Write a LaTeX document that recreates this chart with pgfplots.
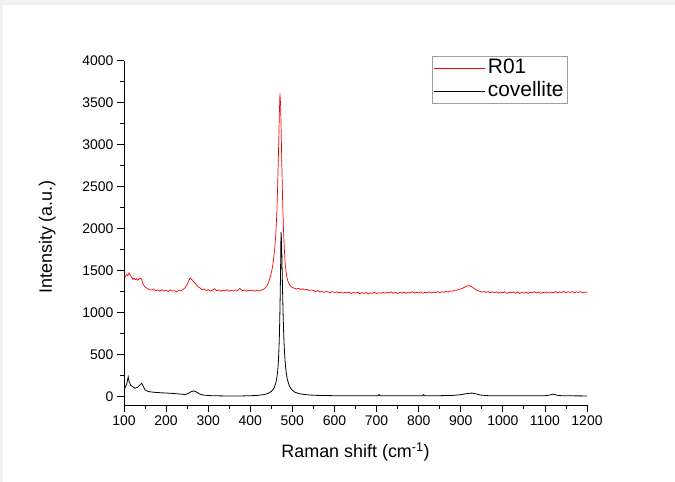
\documentclass[border=0pt]{standalone}
\usepackage{fontspec}
\setmainfont{Liberation Sans}
\usepackage{pgfplots}
\pgfplotsset{compat=1.18}
\definecolor{bggray}{RGB}{242,242,242}
\definecolor{legframe}{RGB}{160,160,160}
\begin{document}
\begin{tikzpicture}
\fill[bggray] (0bp,0bp) rectangle (675bp,482bp);
\fill[white] (3bp,0bp) rectangle (675bp,477bp);
\begin{axis}[
  at={(124bp,77bp)}, anchor=south west,
  scale only axis, width=463bp, height=344.3bp,
  xmin=100, xmax=1200, ymin=-100, ymax=4000,
  axis x line*=bottom, axis y line*=left,
  xtick={100,200,...,1200}, ytick={0,500,...,4000},
  minor x tick num=1, minor y tick num=1,
  tick align=outside,
  major tick length=7bp, minor tick length=4bp,
  tick style={black, line width=0.8bp},
  axis line style={line width=0.8bp},
  ticklabel style={font=\fontsize{14}{16}\selectfont},
  /pgf/number format/assume math mode=true,
  /pgf/number format/set thousands separator={},
  xlabel={Raman shift (cm\textsuperscript{-1})},
  ylabel={Intensity (a.u.)},
  label style={font=\fontsize{18}{21}\selectfont},
  xlabel style={at={(rel axis cs:0.5,-0.137)}, anchor=center},
  ylabel style={at={(rel axis cs:-0.166,0.488)}, anchor=center},
  legend style={at={(0.665,1.0137)}, anchor=north west, draw=legframe,
    font=\fontsize{21}{24}\selectfont, inner xsep=2bp, inner ysep=2bp, row sep=3bp,
    nodes={inner xsep=2bp, inner ysep=1bp, text height=14bp, text depth=4bp}},
  legend cell align=left,
  legend image code/.code={\path (-1bp,0bp) -- (50bp,0bp); \draw[#1] (0bp,0bp) -- (45bp,0bp);},
]
\addplot[red, line width=0.7bp] coordinates {
(100,1440)(103,1425)(106,1455)(109,1440)(112,1472)(115,1445)(118,1425)(121,1395)(124,1410)(127,1392)
(130,1405)(133,1385)(136,1402)(139,1410)(142,1395)(145,1345)(148,1318)(151,1300)(155,1290)(160,1275)
(165,1268)(170,1280)(175,1262)(180,1270)(185,1255)(190,1272)(195,1258)(200,1266)(205,1252)(210,1270)
(215,1256)(220,1262)(225,1248)(230,1265)(235,1258)(240,1275)(245,1295)(250,1335)(254,1380)(257,1412)
(260,1398)(263,1385)(266,1362)(270,1345)(274,1318)(278,1300)(282,1290)(286,1272)(290,1282)(295,1265)
(300,1272)(305,1258)(310,1268)(315,1285)(320,1262)(325,1270)(330,1255)(335,1268)(340,1260)(345,1272)
(350,1255)(355,1265)(360,1258)(365,1270)(370,1262)(375,1290)(378,1275)(382,1262)(386,1270)(390,1255)
(395,1268)(400,1262)(405,1270)(410,1255)(415,1266)(420,1258)(425,1265)(430,1275)(435,1292)(440,1320)
(444,1370)(448,1430)(452,1520)(455,1620)(458,1760)(461,1960)(463,2180)(465,2500)(467,2900)(469,3350)
(470.5,3610)(472,3480)(473.5,3150)(475,2750)(477,2300)(479,1980)(481,1750)(483,1580)(486,1450)(489,1380)
(492,1345)(495,1320)(500,1298)(505,1290)(510,1282)(515,1290)(520,1275)(525,1284)(530,1270)(535,1278)
(540,1262)(545,1270)(550,1265)(555,1250)(560,1262)(565,1245)(570,1255)(575,1240)(580,1252)(585,1245)
(590,1238)(595,1250)(600,1240)(605,1248)(610,1236)(615,1245)(620,1232)(625,1242)(630,1235)(635,1244)
(640,1228)(645,1240)(650,1232)(655,1243)(660,1225)(665,1236)(670,1228)(675,1240)(680,1222)(685,1234)
(690,1230)(695,1242)(700,1226)(705,1238)(710,1230)(715,1244)(720,1232)(725,1240)(730,1235)(735,1246)
(740,1230)(745,1242)(750,1228)(755,1240)(760,1234)(765,1245)(770,1230)(775,1244)(780,1236)(785,1248)
(790,1232)(795,1243)(800,1236)(805,1246)(810,1230)(815,1244)(820,1236)(825,1248)(830,1234)(835,1245)
(840,1238)(845,1250)(850,1236)(855,1248)(860,1242)(865,1254)(870,1245)(875,1258)(880,1255)(885,1266)
(890,1265)(895,1278)(900,1282)(905,1292)(910,1305)(915,1318)(920,1322)(925,1310)(930,1295)(935,1278)
(940,1262)(945,1255)(950,1242)(955,1252)(960,1240)(965,1250)(970,1236)(975,1246)(980,1238)(985,1248)
(990,1232)(995,1244)(1000,1236)(1005,1247)(1010,1230)(1015,1243)(1020,1236)(1025,1246)(1030,1232)(1035,1244)
(1040,1228)(1045,1240)(1050,1234)(1055,1246)(1060,1230)(1065,1242)(1070,1236)(1075,1248)(1080,1234)(1085,1245)
(1090,1230)(1095,1242)(1100,1236)(1105,1246)(1110,1232)(1115,1244)(1120,1238)(1125,1250)(1130,1236)(1135,1248)
(1140,1240)(1145,1252)(1150,1236)(1155,1248)(1160,1240)(1165,1250)(1170,1236)(1175,1248)(1180,1240)(1185,1250)
(1190,1234)(1195,1246)(1200,1240)
};
\addlegendentry{R01}
\addplot[black, line width=0.8bp] coordinates {
(100,90)(103,110)(107,160)(110,235)(112,180)(116,135)(120,120)(126,100)(132,110)(138,140)
(142,160)(146,120)(150,80)(158,60)(170,52)(190,45)(210,40)(230,32)(245,25)(252,35)
(258,55)(265,68)(272,55)(280,30)(290,17)(310,10)(340,8)(380,8)(410,12)(420,16)
(430,22)(440,34)(445,45)(450,62)(455,90)(458,120)(461,170)(463,220)(465,300)(466,360)
(467,440)(468,550)(469,700)(470,900)(471,1180)(472,1500)(473,1960)(474,1880)(475,1690)(476,1440)
(477,1200)(478,985)(479,810)(480,670)(481,560)(483,400)(485,300)(488,205)(493,125)(498,85)
(505,55)(515,36)(530,24)(550,16)(580,12)(620,10)(660,10)(704,10)(706,24)(708,10)
(750,9)(790,10)(810,10)(812,24)(814,10)(850,11)(880,14)(900,22)(912,34)(925,42)
(935,34)(948,18)(965,11)(1000,9)(1050,10)(1100,11)(1110,17)(1120,30)(1128,17)(1140,10)
(1170,9)(1200,8)
};
\addlegendentry{covellite}
\end{axis}
\end{tikzpicture}
\end{document}
